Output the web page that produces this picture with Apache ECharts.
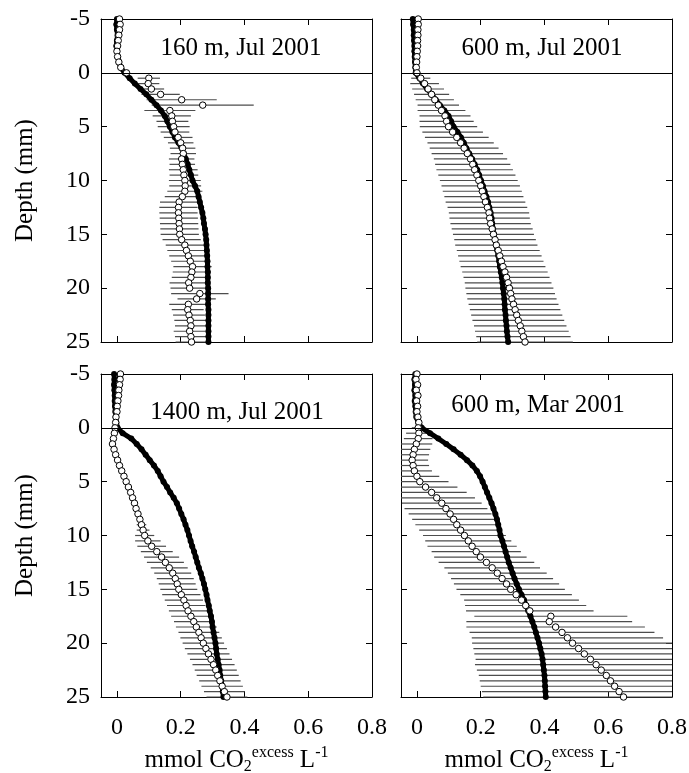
<!DOCTYPE html>
<html>
<head>
<meta charset="utf-8">
<script src="https://cdn.jsdelivr.net/npm/echarts@6/dist/echarts.min.js"></script>
<style>
  html, body { margin: 0; padding: 0; background: #fff; }
  #chart { width: 689px; height: 773px; }
</style>
</head>
<body>
<div id="chart"></div>
<script>
const depth = [-5, -4.5, -4, -3.5, -3, -2.5, -2, -1.5, -1, -0.5,
  0, 0.5, 1, 1.5, 2, 2.5, 3, 3.5, 4, 4.5,
  5, 5.5, 6, 6.5, 7, 7.5, 8, 8.5, 9, 9.5,
  10, 10.5, 11, 11.5, 12, 12.5, 13, 13.5, 14, 14.5,
  15, 15.5, 16, 16.5, 17, 17.5, 18, 18.5, 19, 19.5,
  20, 20.5, 21, 21.5, 22, 22.5, 23, 23.5, 24, 24.5, 25];

// 160 m, Jul 2001
const p1Solid = [0, -0.002, 0, 0.002, 0, -0.002, 0, 0.003, 0.006, 0.012,
  0.024, 0.04, 0.056, 0.074, 0.092, 0.108, 0.124, 0.138, 0.15, 0.158,
  0.166, 0.174, 0.182, 0.193, 0.203, 0.21, 0.216, 0.222, 0.227, 0.232,
  0.237, 0.245, 0.252, 0.256, 0.26, 0.264, 0.268, 0.271, 0.273, 0.276,
  0.278, 0.28, 0.281, 0.282, 0.283, 0.284, 0.284, 0.285, 0.285, 0.285,
  0.286, 0.286, 0.286, 0.286, 0.287, 0.287, 0.287, 0.287, 0.287, 0.287, 0.287];
const p1Open = [0.008, 0.01, 0.008, 0.006, 0.004, 0.002, 0, 0.002, 0.006, 0.012,
  0.03, 0.1, 0.098, 0.108, 0.137, 0.203, 0.269, 0.166, 0.172, 0.174,
  0.178, 0.182, 0.192, 0.2, 0.206, 0.208, 0.203, 0.205, 0.208, 0.21,
  0.213, 0.214, 0.213, 0.205, 0.195, 0.193, 0.193, 0.194, 0.195, 0.196,
  0.197, 0.203, 0.213, 0.218, 0.224, 0.23, 0.237, 0.235, 0.232, 0.225,
  0.228, 0.26, 0.25, 0.224, 0.222, 0.226, 0.23, 0.232, 0.228, 0.232, 0.234];
const p1Err = [0, 0, 0, 0, 0, 0, 0, 0, 0, 0,
  0.01, 0.035, 0.035, 0.04, 0.06, 0.11, 0.16, 0.08, 0.06, 0.05,
  0.05, 0.045, 0.045, 0.04, 0.04, 0.04, 0.04, 0.04, 0.045, 0.045,
  0.05, 0.05, 0.055, 0.055, 0.06, 0.06, 0.06, 0.06, 0.06, 0.06,
  0.06, 0.06, 0.06, 0.06, 0.06, 0.06, 0.06, 0.06, 0.06, 0.06,
  0.06, 0.09, 0.06, 0.06, 0.05, 0.05, 0.05, 0.05, 0.05, 0.05, 0.05];

// 600 m, Jul 2001
const p2Solid = [-0.013, -0.012, -0.01, -0.01, -0.009, -0.008, -0.008, -0.007, -0.006, -0.005,
  -0.004, 0.008, 0.019, 0.032, 0.046, 0.059, 0.072, 0.086, 0.099, 0.107,
  0.115, 0.127, 0.138, 0.147, 0.155, 0.164, 0.173, 0.181, 0.189, 0.195,
  0.201, 0.207, 0.212, 0.218, 0.223, 0.227, 0.231, 0.234, 0.236, 0.239,
  0.242, 0.245, 0.248, 0.252, 0.255, 0.258, 0.26, 0.263, 0.266, 0.268,
  0.27, 0.272, 0.274, 0.275, 0.276, 0.278, 0.279, 0.281, 0.282, 0.284, 0.286];
const p2Open = [0.004, 0.004, 0.003, 0.003, 0.002, 0.002, 0.001, 0, -0.001, -0.002,
  0, 0.012, 0.024, 0.035, 0.046, 0.056, 0.067, 0.077, 0.088, 0.093,
  0.099, 0.112, 0.125, 0.137, 0.148, 0.158, 0.168, 0.175, 0.181, 0.188,
  0.194, 0.2, 0.205, 0.21, 0.215, 0.221, 0.226, 0.228, 0.231, 0.236,
  0.24, 0.245, 0.249, 0.255, 0.26, 0.265, 0.27, 0.276, 0.281, 0.286,
  0.29, 0.294, 0.298, 0.303, 0.308, 0.313, 0.318, 0.324, 0.329, 0.334, 0.339];
const p2Err = [0, 0, 0, 0, 0, 0, 0, 0, 0, 0,
  0.01, 0.03, 0.045, 0.05, 0.055, 0.06, 0.065, 0.075, 0.08, 0.085,
  0.09, 0.095, 0.1, 0.104, 0.108, 0.112, 0.115, 0.118, 0.12, 0.121,
  0.122, 0.123, 0.124, 0.124, 0.125, 0.125, 0.126, 0.126, 0.126, 0.127,
  0.127, 0.128, 0.129, 0.13, 0.131, 0.132, 0.133, 0.134, 0.135, 0.136,
  0.138, 0.139, 0.14, 0.141, 0.142, 0.143, 0.144, 0.145, 0.147, 0.148, 0.15];

// 1400 m, Jul 2001
const p3Solid = [-0.009, -0.008, -0.009, -0.008, -0.007, -0.007, -0.006, -0.005, -0.004, -0.002,
  0.002, 0.018, 0.045, 0.062, 0.077, 0.09, 0.103, 0.116, 0.128, 0.137,
  0.146, 0.157, 0.167, 0.178, 0.188, 0.195, 0.202, 0.209, 0.215, 0.221,
  0.226, 0.231, 0.236, 0.242, 0.247, 0.252, 0.257, 0.263, 0.268, 0.273,
  0.277, 0.281, 0.284, 0.288, 0.291, 0.295, 0.298, 0.3, 0.303, 0.306,
  0.309, 0.311, 0.313, 0.316, 0.319, 0.322, 0.324, 0.327, 0.33, 0.332, 0.334];
const p3Open = [0.011, 0.01, 0.008, 0.006, 0.005, 0.003, 0.001, 0, -0.003, -0.004,
  -0.006, -0.008, -0.011, -0.014, -0.009, -0.004, 0.002, 0.008, 0.015, 0.022,
  0.029, 0.036, 0.043, 0.049, 0.055, 0.06, 0.066, 0.072, 0.077, 0.082,
  0.087, 0.097, 0.109, 0.125, 0.14, 0.152, 0.164, 0.175, 0.183, 0.189,
  0.194, 0.202, 0.21, 0.217, 0.223, 0.232, 0.241, 0.249, 0.257, 0.264,
  0.271, 0.279, 0.287, 0.295, 0.303, 0.31, 0.316, 0.323, 0.33, 0.337, 0.345];
const p3Err = [0, 0, 0, 0, 0, 0, 0, 0, 0, 0,
  0, 0, 0, 0, 0, 0, 0, 0, 0, 0,
  0, 0, 0, 0, 0, 0, 0, 0.01, 0.015, 0.02,
  0.03, 0.04, 0.045, 0.05, 0.055, 0.058, 0.058, 0.058, 0.058, 0.058,
  0.058, 0.06, 0.06, 0.06, 0.06, 0.062, 0.062, 0.064, 0.064, 0.065,
  0.065, 0.066, 0.066, 0.066, 0.066, 0.066, 0.066, 0.065, 0.065, 0.064, 0.064];

// 600 m, Mar 2001
const p4Solid = [-0.005, -0.008, -0.006, -0.008, -0.005, -0.007, -0.005, -0.004, -0.002, 0.004,
  0.015, 0.041, 0.067, 0.092, 0.115, 0.137, 0.157, 0.174, 0.188, 0.198,
  0.206, 0.213, 0.22, 0.227, 0.234, 0.24, 0.246, 0.251, 0.255, 0.259,
  0.262, 0.268, 0.273, 0.278, 0.283, 0.288, 0.294, 0.3, 0.306, 0.313,
  0.32, 0.328, 0.336, 0.343, 0.349, 0.356, 0.362, 0.368, 0.373, 0.378,
  0.383, 0.387, 0.391, 0.394, 0.396, 0.398, 0.4, 0.401, 0.402, 0.403, 0.404];
const p4Open = [0, -0.003, 0.002, -0.002, 0.003, -0.001, 0.002, 0, 0.003, 0.006,
  0.004, 0.006, 0.004, -0.002, -0.008, -0.012, -0.015, -0.012, -0.008, 0,
  0.009, 0.027, 0.046, 0.062, 0.078, 0.091, 0.104, 0.115, 0.125, 0.137,
  0.149, 0.161, 0.173, 0.186, 0.199, 0.218, 0.236, 0.252, 0.267, 0.281,
  0.294, 0.311, 0.328, 0.341, 0.354, 0.42, 0.415, 0.435, 0.455, 0.472,
  0.488, 0.507, 0.525, 0.544, 0.562, 0.578, 0.594, 0.607, 0.62, 0.634, 0.648];
const p4Err = [0, 0, 0, 0, 0, 0, 0, 0, 0, 0,
  0.02, 0.04, 0.045, 0.05, 0.05, 0.05, 0.05, 0.05, 0.055, 0.07,
  0.09, 0.1, 0.11, 0.12, 0.125, 0.13, 0.13, 0.13, 0.13, 0.13,
  0.13, 0.135, 0.14, 0.14, 0.145, 0.15, 0.15, 0.155, 0.16, 0.165,
  0.17, 0.175, 0.18, 0.19, 0.2, 0.24, 0.26, 0.28, 0.29, 0.3,
  0.315, 0.33, 0.345, 0.36, 0.38, 0.39, 0.4, 0.41, 0.42, 0.43, 0.44];

const panelTitles = ['160 m, Jul 2001', '600 m, Jul 2001', '1400 m, Jul 2001', '600 m, Mar 2001'];
const xTicks = [0, 0.2, 0.4, 0.6, 0.8];
const xLabels = ['0', '0.2', '0.4', '0.6', '0.8'];

const panels = [
  { solid: p1Solid, open: p1Open, err: p1Err },
  { solid: p2Solid, open: p2Open, err: p2Err },
  { solid: p3Solid, open: p3Open, err: p3Err },
  { solid: p4Solid, open: p4Open, err: p4Err }
];

const FONT = '"Liberation Serif", "Times New Roman", serif';
const XMIN = -0.05, XMAX = 0.8;
const grids = [
  { left: 101, top: 19, width: 271, height: 323, outerBoundsMode: 'none' },
  { left: 401, top: 19, width: 271, height: 323, outerBoundsMode: 'none' },
  { left: 101, top: 374, width: 271, height: 323, outerBoundsMode: 'none' },
  { left: 401, top: 374, width: 271, height: 323, outerBoundsMode: 'none' }
];
const titlePos = [[241, 48], [542, 48], [237, 412], [538, 405]];

const chart = echarts.init(document.getElementById('chart'));

const axisLine = { show: true, onZero: false, lineStyle: { color: '#000', width: 1 } };
const tick = { show: true, inside: true, length: 6, lineStyle: { color: '#000', width: 1 } };

const xAxis = [], yAxis = [], series = [];

grids.forEach((g, i) => {
  const bottomRow = i >= 2, leftCol = i % 2 === 0;
  xAxis.push({
    type: 'value', gridIndex: i, min: XMIN, max: XMAX, position: 'bottom',
    axisLine: axisLine, splitLine: { show: false },
    axisTick: Object.assign({ customValues: xTicks }, tick),
    axisLabel: {
      show: bottomRow, customValues: xTicks, margin: 19,
      fontFamily: FONT, fontSize: 24, color: '#000',
      formatter: v => xLabels[xTicks.indexOf(Math.round(v * 10) / 10)] || ''
    },
    name: bottomRow ? '{t|mmol CO}{sub|2}{sup|excess}{t| L}{sup|-1}' : '',
    nameLocation: 'middle', nameGap: 48,
    nameTextStyle: {
      fontFamily: FONT, fontSize: 25, color: '#000',
      rich: {
        t: { fontFamily: FONT, fontSize: 25, color: '#000', lineHeight: 30 },
        sub: { fontFamily: FONT, fontSize: 16, color: '#000', lineHeight: 16, verticalAlign: 'bottom' },
        sup: { fontFamily: FONT, fontSize: 16, color: '#000', lineHeight: 16, verticalAlign: 'top' }
      }
    }
  });
  xAxis.push({
    type: 'value', gridIndex: i, min: XMIN, max: XMAX, position: 'top',
    axisLine: axisLine, splitLine: { show: false },
    axisTick: Object.assign({ customValues: xTicks }, tick),
    axisLabel: { show: false }
  });
  yAxis.push({
    type: 'value', gridIndex: i, min: -5, max: 25, interval: 5, inverse: true, position: 'left',
    axisLine: axisLine, splitLine: { show: false }, axisTick: tick,
    axisLabel: { show: leftCol, margin: 11, fontFamily: FONT, fontSize: 24, color: '#000' },
    name: leftCol ? 'Depth (mm)' : '', nameLocation: 'middle', nameGap: 63,
    nameTextStyle: { fontFamily: FONT, fontSize: 25, color: '#000' }
  });
  yAxis.push({
    type: 'value', gridIndex: i, min: -5, max: 25, interval: 5, inverse: true, position: 'right',
    axisLine: axisLine, splitLine: { show: false }, axisTick: tick,
    axisLabel: { show: false }
  });

  const p = panels[i];
  const bars = [];
  depth.forEach((d, k) => {
    if (p.err[k] > 0) {
      bars.push([Math.max(XMIN, p.open[k] - p.err[k]), Math.min(XMAX, p.open[k] + p.err[k]), d]);
    }
  });

  series.push({
    type: 'custom', xAxisIndex: 2 * i, yAxisIndex: 2 * i, z: 1,
    data: bars, encode: { x: [0, 1], y: 2 },
    renderItem: (params, api) => {
      const a = api.coord([api.value(0), api.value(2)]);
      const b = api.coord([api.value(1), api.value(2)]);
      return { type: 'line', shape: { x1: a[0], y1: a[1], x2: b[0], y2: b[1] },
        style: { stroke: '#4d4d4d', lineWidth: 1.2 } };
    },
    markLine: {
      silent: true, symbol: ['none', 'none'], label: { show: false },
      lineStyle: { color: '#000', type: 'solid', width: 1 },
      data: [{ yAxis: 0 }]
    }
  });
  series.push({
    type: 'line', xAxisIndex: 2 * i, yAxisIndex: 2 * i, z: 2,
    data: depth.map((d, k) => [p.solid[k], d]),
    symbol: 'circle', symbolSize: 6, showSymbol: true,
    lineStyle: { color: '#000', width: 5 },
    itemStyle: { color: '#000' }
  });
  series.push({
    type: 'scatter', xAxisIndex: 2 * i, yAxisIndex: 2 * i, z: 3,
    data: depth.map((d, k) => [p.open[k], d]),
    symbol: 'circle', symbolSize: 6.5,
    itemStyle: { color: '#fff', borderColor: '#000', borderWidth: 1, opacity: 1 }
  });
});

const option = {
  animation: false,
  backgroundColor: '#fff',
  grid: grids,
  xAxis: xAxis,
  yAxis: yAxis,
  series: series,
  graphic: panelTitles.map((t, i) => ({
    type: 'text', x: titlePos[i][0], y: titlePos[i][1], z: 10,
    style: { text: t, font: '25px ' + FONT, fill: '#000', align: 'center', verticalAlign: 'middle' }
  }))
};

chart.setOption(option);
</script>
</body>
</html>
